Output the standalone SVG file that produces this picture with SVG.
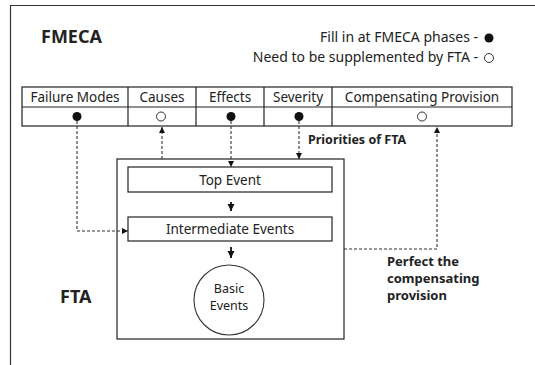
<svg xmlns="http://www.w3.org/2000/svg" width="535" height="365" viewBox="0 0 535 365">
<style>
.t{font-family:"Noto Sans","Open Sans",sans-serif;fill:#222}
.h{font-size:13.5px}
.lg{font-size:14px}
.b{font-weight:bold}
.box{fill:#fff;stroke:#222;stroke-width:1.2}
.dash{fill:none;stroke:#333;stroke-width:1.1;stroke-dasharray:3 2}
.solid{fill:none;stroke:#222;stroke-width:1.2}
.arr{fill:none;stroke:#111;stroke-width:1.8}
</style>
<defs>
<marker id="ah" viewBox="0 0 10 10" refX="10" refY="5" markerWidth="6" markerHeight="6" markerUnits="userSpaceOnUse" orient="auto"><path d="M0,0 L10,5 L0,10 z" fill="#111"/></marker>
<marker id="ah2" viewBox="0 0 10 10" refX="10" refY="5" markerWidth="7" markerHeight="8" markerUnits="userSpaceOnUse" orient="auto"><path d="M0,0 L10,5 L0,10 z" fill="#111"/></marker>
</defs>
<rect width="535" height="365" fill="#fff"/>
<g id="frame"><path d="M10.5,370 V5.5 H540" fill="none" stroke="#333" stroke-width="1.2"/></g>
<g id="titles">
<text class="t b" x="41" y="43" font-size="18">FMECA</text>
<text class="t b" x="60" y="303" font-size="18">FTA</text>
</g>
<g id="legend">
<text class="t lg" x="478" y="42" text-anchor="end">Fill in at FMECA phases -</text>
<circle cx="489" cy="38" r="4.5" fill="#111"/>
<text class="t lg" x="478" y="62" text-anchor="end">Need to be supplemented by FTA -</text>
<circle cx="489" cy="58" r="4.5" fill="#fff" stroke="#333" stroke-width="1"/>
</g>
<g id="fmeca-table">
<rect class="box" x="22" y="87" width="490" height="39"/>
<path class="solid" d="M22,107 H512 M128,87 V126 M196,87 V126 M264,87 V126 M332,87 V126"/>
<text class="t h" x="75" y="102" text-anchor="middle">Failure Modes</text>
<text class="t h" x="162" y="102" text-anchor="middle">Causes</text>
<text class="t h" x="230" y="102" text-anchor="middle">Effects</text>
<text class="t h" x="298" y="102" text-anchor="middle">Severity</text>
<text class="t h" x="422" y="102" text-anchor="middle">Compensating Provision</text>
<circle cx="77" cy="116.5" r="4.5" fill="#111"/>
<circle cx="161" cy="116.5" r="4.5" fill="#fff" stroke="#333" stroke-width="1"/>
<circle cx="231" cy="116.5" r="4.5" fill="#111"/>
<circle cx="299" cy="116.5" r="4.5" fill="#111"/>
<circle cx="422" cy="116.5" r="4.5" fill="#fff" stroke="#333" stroke-width="1"/>
</g>
<g id="fta-box">
<rect class="box" x="117" y="159" width="227" height="180"/>
</g>
<g id="top-event">
<rect class="box" x="128" y="167" width="204" height="25"/>
<text class="t h" x="230" y="184.5" text-anchor="middle">Top Event</text>
</g>
<g id="intermediate-events">
<rect class="box" x="128" y="217" width="204" height="24"/>
<text class="t h" x="230" y="234" text-anchor="middle">Intermediate Events</text>
</g>
<g id="basic-events">
<circle cx="229" cy="300" r="35" fill="#fff" stroke="#333" stroke-width="1.1"/>
<text class="t" x="229" y="293" font-size="12.5" text-anchor="middle">Basic</text>
<text class="t" x="229" y="310" font-size="12.5" text-anchor="middle">Events</text>
</g>
<g id="connectors">
<path class="dash" d="M77,121 V231 H128" marker-end="url(#ah)"/>
<path class="dash" d="M162,159 V127" marker-end="url(#ah)"/>
<path class="dash" d="M231,121 V167" marker-end="url(#ah)"/>
<path class="dash" d="M299,121 V159" marker-end="url(#ah)"/>
<path class="dash" d="M344,249 H437 V127" marker-end="url(#ah)"/>
<path class="arr" d="M231,202 V211" marker-end="url(#ah2)"/>
<path class="arr" d="M231,247 V258" marker-end="url(#ah2)"/>
</g>
<g id="labels">
<text class="t b" x="308" y="144" font-size="12.5">Priorities of FTA</text>
<text class="t b" x="387" y="266" font-size="13">Perfect the</text>
<text class="t b" x="387" y="283" font-size="13">compensating</text>
<text class="t b" x="387" y="300" font-size="13">provision</text>
</g>
</svg>
